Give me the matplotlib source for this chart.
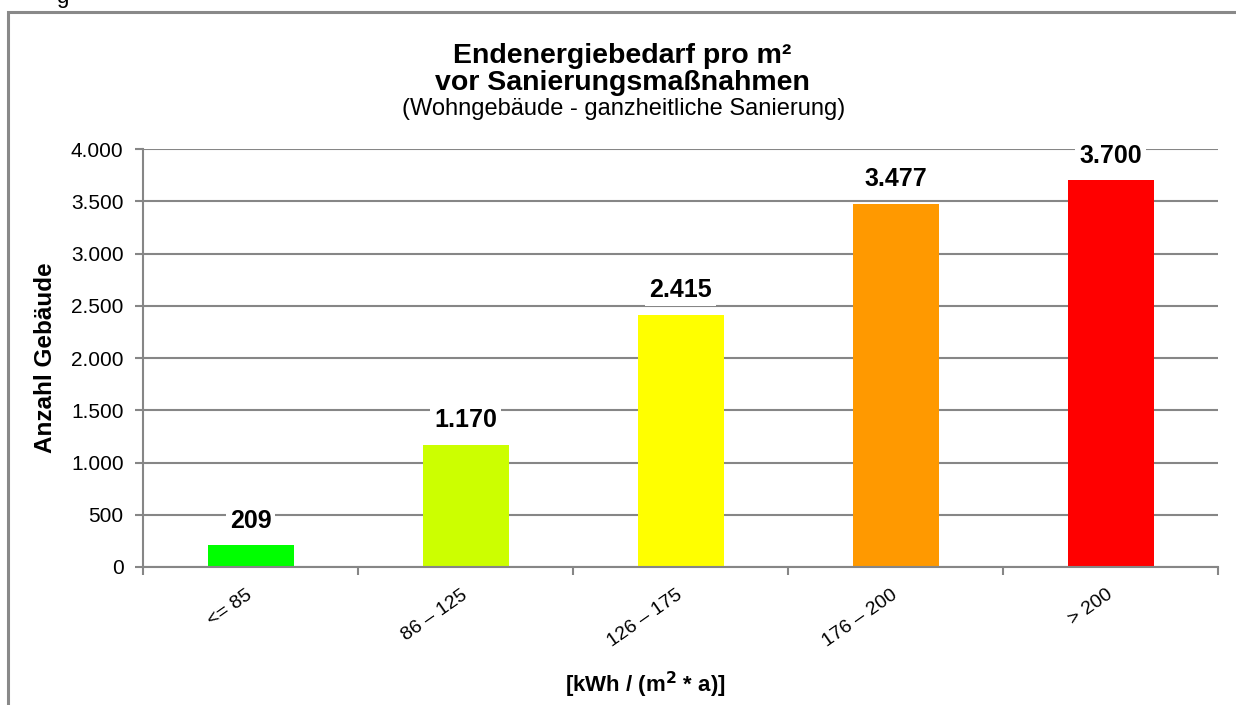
import matplotlib
matplotlib.use("Agg")
import matplotlib.pyplot as plt
from matplotlib.patches import Rectangle
from matplotlib.ticker import FuncFormatter, MultipleLocator

categories = ["<= 85", "86 \u2013 125", "126 \u2013 175", "176 \u2013 200", "> 200"]
values = [209, 1170, 2415, 3477, 3700]
colors = ["#00FF00", "#CCFF00", "#FFFF00", "#FF9900", "#FF0000"]

plt.rcParams['font.family'] = ['Liberation Sans', 'DejaVu Sans']

W, H = 1236, 705
fig = plt.figure(figsize=(W/100, H/100), dpi=100)
ax = fig.add_axes([143/W, 1-567/H, (1218-143)/W, (567-149)/H])

grid_c = "#868686"
x = list(range(len(categories)))
ax.bar(x, values, width=0.4, color=colors, zorder=2)
ax.set_xlim(-0.5, len(categories)-0.5)
ax.set_ylim(0, 4000)
ax.yaxis.set_major_locator(MultipleLocator(500))
ax.yaxis.set_major_formatter(FuncFormatter(lambda v, p: f"{int(v):,}".replace(",", ".")))
ax.grid(axis='y', color=grid_c, linewidth=1.5, zorder=0)
ax.set_axisbelow(True)
for s in ['top', 'right']:
    ax.spines[s].set_visible(False)
for s in ['left', 'bottom']:
    ax.spines[s].set_color(grid_c)
    ax.spines[s].set_linewidth(1.5)
ax.tick_params(axis='y', colors=grid_c, length=6, width=1.5, labelsize=15, labelcolor='black', pad=8)

# x ticks at category boundaries
ax.set_xticks([i-0.5 for i in range(len(categories)+1)])
ax.set_xticklabels([])
ax.tick_params(axis='x', colors=grid_c, length=6, width=1.5)
for i, c in enumerate(categories):
    ax.annotate(c, xy=(i, 0), xycoords=('data', 'axes fraction'),
                xytext=(0, -19), textcoords='offset points',
                rotation=35, ha='right', va='center', rotation_mode='anchor',
                fontsize=14, color='black')

for i, v in enumerate(values):
    ax.annotate(f"{v:,}".replace(",", "."), xy=(i, v), xytext=(0, 12.5),
                textcoords='offset points', ha='center', va='baseline',
                fontsize=18, fontweight='bold',
                bbox=dict(boxstyle='square,pad=0.15', fc='white', ec='none'), zorder=5)

ax.set_ylabel("Anzahl Geb\u00e4ude", fontsize=17.5, fontweight='bold', labelpad=10)
fig.text(645/W, 1-692/H, "[kWh / (m$\\mathbf{^2}$ * a)]", ha='center', va='baseline',
         fontsize=16, fontweight='bold')

fig.text(622/W, 1-63/H, "Endenergiebedarf pro m\u00b2", ha='center', va='baseline',
         fontsize=20.5, fontweight='bold')
fig.text(622/W, 1-90/H, "vor Sanierungsma\u00dfnahmen", ha='center', va='baseline',
         fontsize=20.5, fontweight='bold')
fig.text(624/W, 1-115/H, "(Wohngeb\u00e4ude - ganzheitliche Sanierung)", ha='center', va='baseline',
         fontsize=17)

# outer frame
fig.patches.append(Rectangle((8/W, -0.05), 1.1, 1-12/H+0.05, transform=fig.transFigure,
                             fill=False, edgecolor="#898989", linewidth=2.2))
fig.text(56/W, 1+3/H, "g", ha='left', va='center', fontsize=16)

fig.savefig("out.png", dpi=100)
